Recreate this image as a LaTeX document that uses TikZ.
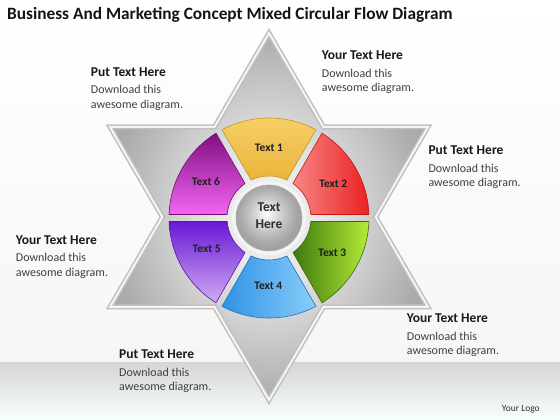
\documentclass[tikz,border=0pt]{standalone}
\usepackage{fontspec}
\setmainfont{Carlito}
\definecolor{yA}{HTML}{F6D06A}\definecolor{yB}{HTML}{EBB43A}\definecolor{yD}{HTML}{C89420}
\definecolor{rA}{HTML}{F88686}\definecolor{rB}{HTML}{EC2020}\definecolor{rD}{HTML}{C01818}
\definecolor{gA}{HTML}{3C7A0C}\definecolor{gB}{HTML}{B6EA38}\definecolor{gD}{HTML}{3A6A10}
\definecolor{bA}{HTML}{2E92E6}\definecolor{bB}{HTML}{8ACEFA}\definecolor{bD}{HTML}{2070B8}
\definecolor{vA}{HTML}{6818D6}\definecolor{vB}{HTML}{D0ACF2}\definecolor{vD}{HTML}{5A18A8}
\definecolor{mA}{HTML}{820E82}\definecolor{mB}{HTML}{F266F2}\definecolor{mD}{HTML}{6E0E6E}
\pgfdeclareradialshading{starshade}{\pgfpoint{0bp}{0bp}}{color(0bp)=(gray!8); color(9bp)=(gray!20); color(17bp)=(gray!42); color(25bp)=(gray!66); color(36bp)=(gray!72); color(50bp)=(gray!72)}
\pgfdeclareradialshading{ballshade}{\pgfpoint{-2bp}{4bp}}{color(0bp)=(white); color(5bp)=(gray!18); color(14bp)=(gray!48); color(22bp)=(gray!70); color(27bp)=(gray!76); color(50bp)=(gray!76)}
\tikzset{
  hdr/.style={font=\fontsize{13.5}{16}\selectfont\bfseries, text=black!90, inner sep=0pt},
  bodytxt/.style={font=\fontsize{12}{14}\selectfont, text=black!75, inner sep=0pt},
  lbl/.style={font=\fontsize{11.5}{13}\selectfont\bfseries, text=black!88, inner sep=0pt},
  ctr/.style={font=\fontsize{13.5}{15}\selectfont\bfseries, text=black!82, inner sep=0pt},
  starpath/.style={insert path={(269,387) -- (323.5,293) -- (428,293) -- (375.7,203) -- (428,113) -- (323.5,113) -- (269,20) -- (214.5,113) -- (110,113) -- (162.3,203) -- (110,293) -- (214.5,293) -- cycle}},
  sect/.style={line width=0.6pt}
}
\newcommand\tblock[4]{%
  \node[hdr, anchor=base west] (#1h) at (#2,{420-#3}) {#4};
  \node[bodytxt, anchor=base west] (#1a) at (#2,{420-#3-17.5}) {Download this};
  \node[bodytxt, anchor=base west] (#1b) at (#2,{420-#3-32}) {awesome diagram.};
}
\newcommand\mysector[2]{%
  \pgfmathsetmacro\aA{#1-30+2.0}%
  \pgfmathsetmacro\aB{#1+30-2.0}%
  \pgfmathsetmacro\aC{#1+30-4.78}%
  \pgfmathsetmacro\aD{#1-30+4.78}%
  \path[sect,#2] (\aA:100) arc[start angle=\aA, end angle=\aB, radius=100] -- (\aC:42) arc[start angle=\aC, end angle=\aD, radius=42] -- cycle;
}
\begin{document}
\begin{tikzpicture}[x=1pt,y=1pt]
\useasboundingbox (0,0) rectangle (560,420);
% background
\shade[top color=white, bottom color=gray!7] (0,57) rectangle (560,420);
\shade[top color=gray!32, middle color=gray!8, bottom color=cyan!3!white] (0,0) rectangle (560,57);
% title
\node[font=\fontsize{17.3}{19}\selectfont\bfseries, text=black!92, anchor=base west, inner sep=0pt] (title) at (7,400.3) {Business And Marketing Concept Mixed Circular Flow Diagram};
% star
\path[shading=starshade, starpath];
\draw[line width=5pt, gray!50, line join=miter, starpath];
\draw[line width=2pt, white!92!gray, line join=miter, starpath];
% circle
\begin{scope}[shift={(269,202)}]
  \mysector{90}{top color=yA, bottom color=yB, draw=yD}
  \mysector{30}{left color=rA, right color=rB, draw=rD}
  \mysector{-30}{left color=gA, right color=gB, draw=gD}
  \mysector{-90}{left color=bA, right color=bB, draw=bD}
  \mysector{-150}{top color=vA, bottom color=vB, draw=vD}
  \mysector{150}{top color=mA, bottom color=mB, draw=mD}
  \fill[gray!9] (0,0) circle (37);
  \path[shading=ballshade] (0,0) circle (33);
  \draw[gray!62, line width=0.6pt] (0,0) circle (33);
\end{scope}
% labels
\node[lbl] (t1) at (269,{420-148.3}) {Text 1};
\node[lbl] (t2) at (333.3,{420-184}) {Text 2};
\node[lbl] (t3) at (332.3,{420-252.3}) {Text 3};
\node[lbl] (t4) at (268.3,{420-285.7}) {Text 4};
\node[lbl] (t5) at (206.7,{420-249}) {Text 5};
\node[lbl] (t6) at (206,{420-182}) {Text 6};
\node[ctr] (c1) at (269,{420-207.3}) {Text};
\node[ctr] (c2) at (269,{420-224.3}) {Here};
% text blocks
\tblock{b1}{90.7}{76.5}{Put Text Here}
\tblock{b2}{321.7}{60}{Your Text Here}
\tblock{b3}{428.3}{155}{Put Text Here}
\tblock{b4}{15.7}{244.5}{Your Text Here}
\tblock{b5}{119}{359}{Put Text Here}
\tblock{b6}{406.7}{323}{Your Text Here}
\node[font=\fontsize{9.5}{11}\selectfont, text=black!80, anchor=base west, inner sep=0pt] (logo) at (501.7,8.5) {Your Logo};
\end{tikzpicture}
\end{document}
